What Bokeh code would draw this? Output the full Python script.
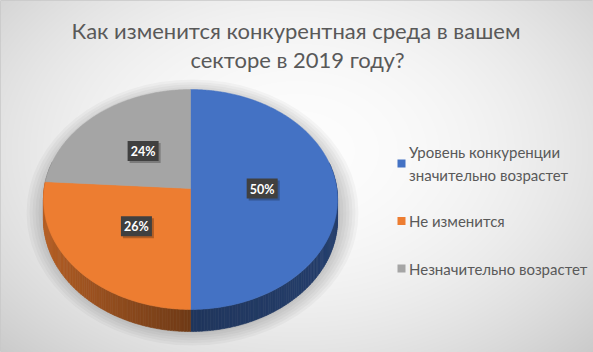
import numpy as np
from bokeh.plotting import figure
from bokeh.models import Range1d
from bokeh.core.properties import value
from bokeh.embed import file_html
from bokeh.resources import INLINE

# ---- data ----
TITLE_LINES = ["Как изменится конкурентная среда в вашем", "секторе в 2019 году?"]
CATEGORIES = ["Уровень конкуренции\nзначительно возрастет", "Не изменится", "Незначительно возрастет"]
VALUES = [50, 26, 24]
LABELS = ["50%", "26%", "24%"]
COLORS = [(68, 114, 196), (237, 125, 49), (165, 165, 165)]

# ---- layout / style ----
W, H = 593, 352
CX, CY = 190.0, 188.0
A, B, K = 146.3, 108.9, 0.1
DEPTH = 19.8
LABEL_R = 0.49
FONT = "Lato"
TXT = "#595959"


def hexc(c, f=1.0):
    r, g, b = [int(max(0, min(255, round(v * f)))) for v in c]
    return "#%02x%02x%02x" % (r, g, b)


def proj(theta, r, down=0.0):
    t = np.radians(theta)
    X = r * np.sin(t)
    Z = -r * np.cos(t)
    w = 1 - K * Z
    w1 = 1 - K * (-np.cos(t))
    return CX + A * X / w, CY + B * Z / w + down / w1


p = figure(width=W, height=H, x_range=Range1d(0, W), y_range=Range1d(H, 0),
           output_backend="svg", toolbar_location=None, min_border=0)
p.axis.visible = False
p.grid.visible = False
p.outline_line_color = "#c8c8c8"
p.background_fill_color = "#e8e8e8"
p.border_fill_color = "#e8e8e8"

# background radial gradient
yy, xx = np.mgrid[0:H, 0:W]
d2 = ((xx - 296) / 330.0) ** 2 + ((yy - 150) / 230.0) ** 2
g = np.clip(253 - 32 * d2, 0, 255).astype(np.uint32)
img = (255 << 24) | (g << 16) | (g << 8) | g
p.image_rgba(image=[img.astype(np.uint32)], x=0, y=0, dw=W, dh=H)

# soft shadow
for i in range(7):
    p.ellipse(x=CX + 2, y=CY + 24, width=296 + 6 * i, height=236 + 5 * i,
              fill_color="black", fill_alpha=0.03, line_color=None)

# cumulative angles
tot = float(sum(VALUES))
starts, ends = [], []
acc = 0.0
for v in VALUES:
    starts.append(acc / tot * 360)
    acc += v
    ends.append(acc / tot * 360)

# sides
sx, sy, sc = [], [], []
for s, e, c in zip(starts, ends, COLORS):
    th = np.arange(s, e, 1.0)
    for t0 in th:
        t1 = min(t0 + 1.0, e)
        if -np.cos(np.radians((t0 + t1) / 2)) < -0.25:
            continue
        a = np.linspace(t0, t1, 3)
        x0, y0 = proj(a, 1.0)
        x1, y1 = proj(a[::-1], 1.0, DEPTH)
        sn = np.sin(np.radians((t0 + t1) / 2))
        f = 0.47 + 0.3 * max(0.0, -sn) + 0.09 * max(0.0, sn)
        sx.append(list(np.concatenate([x0, x1])))
        sy.append(list(np.concatenate([y0, y1])))
        sc.append(hexc(c, f))
p.patches(xs=sx, ys=sy, fill_color=sc, line_color=sc, line_width=0.6)

# top faces
tx, ty, tc = [], [], []
for s, e, c in zip(starts, ends, COLORS):
    a = np.linspace(s, e, int((e - s) * 2) + 2)
    x, y = proj(a, 1.0)
    tx.append([CX] + list(x))
    ty.append([CY] + list(y))
    tc.append(hexc(c))
p.patches(xs=tx, ys=ty, fill_color=tc, line_color=tc, line_width=0.5)

# data labels
mids = [(s + e) / 2 for s, e in zip(starts, ends)]
lx, ly = proj(np.array(mids), LABEL_R)
p.rect(x=lx + 2, y=ly + 2, width=31, height=20, fill_color="black", fill_alpha=0.25, line_color=None)
p.rect(x=lx, y=ly, width=31, height=20, fill_color="#404040", line_color=None)
p.text(x=lx, y=ly + 0.5, text=LABELS, text_font=value(FONT), text_font_style="bold",
       text_font_size="12.5px", text_color="white", text_align="center", text_baseline="middle")

# title
p.text(x=[295.5, 297], y=[30, 59], text=TITLE_LINES, text_font=value(FONT),
       text_font_size="22px", text_color=TXT, text_align="center", text_baseline="middle")

# legend
LINE_H = 20
centers = [173 + 47.5 * i for i in range(len(CATEGORIES))]
mk_y, tx_y = [], []
for cat, cy in zip(CATEGORIES, centers):
    n = cat.count("\n") + 1
    mk_y.append(cy - (n - 1) * LINE_H / 2)
    tx_y.append(cy - (n - 1) * LINE_H / 2)
p.rect(x=[401] * 3, y=mk_y, width=8, height=8, fill_color=[hexc(c) for c in COLORS], line_color=None)
p.text(x=[408.5] * 3, y=tx_y, text=CATEGORIES, text_font=value(FONT), text_font_size="15px",
       text_color=TXT, text_align="left", text_baseline="middle", text_line_height=1.33)

open("out.html", "w").write(file_html(p, INLINE))
